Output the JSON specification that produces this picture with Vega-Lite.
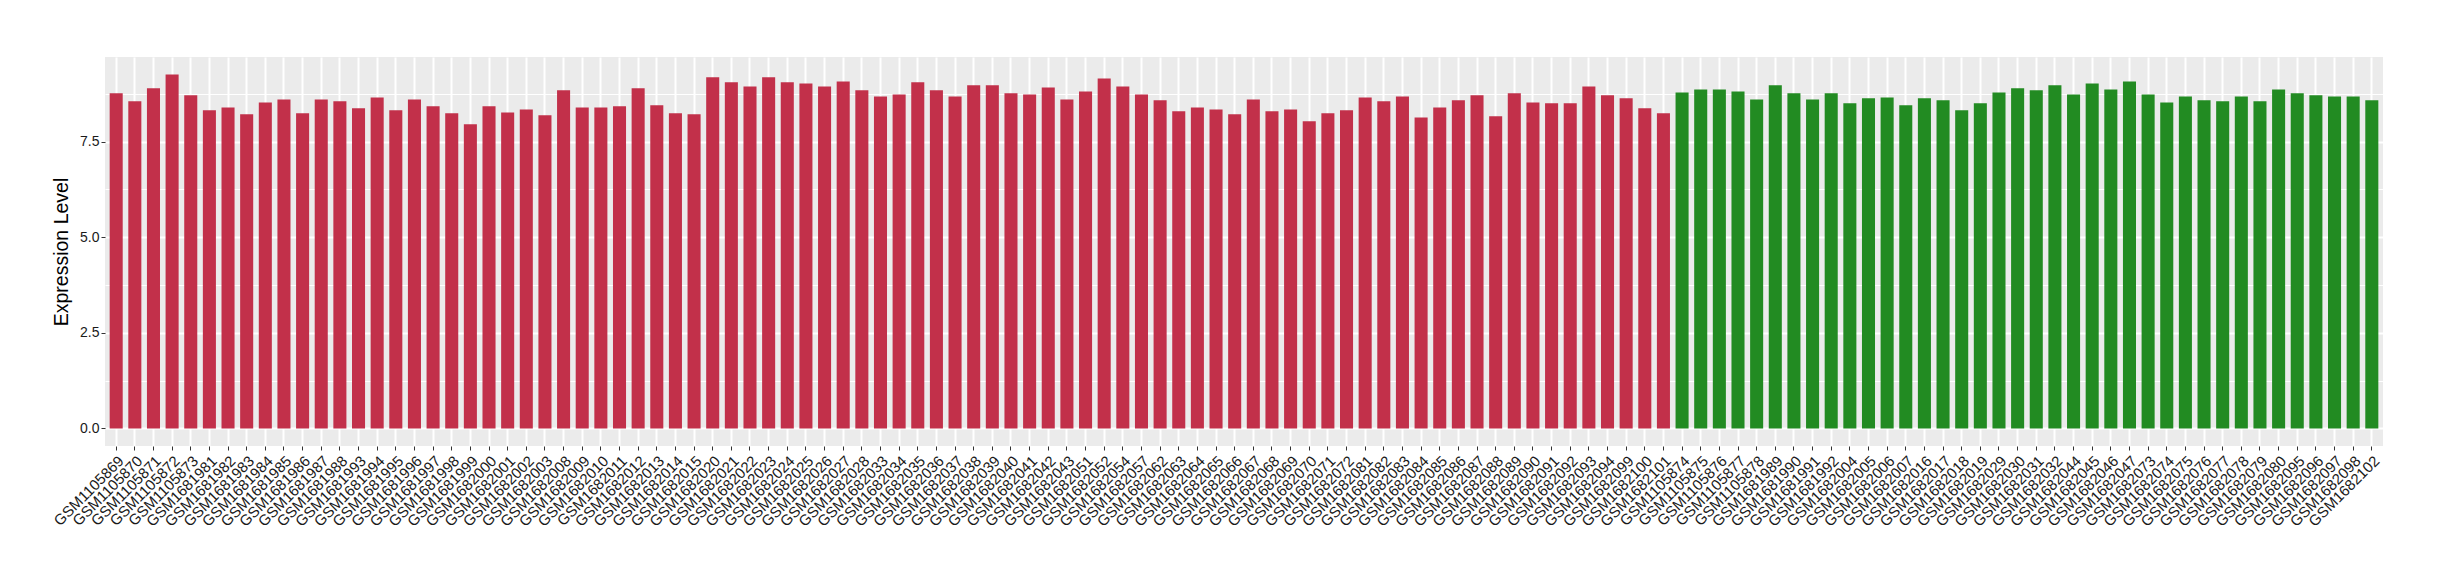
{
  "$schema": "https://vega.github.io/schema/vega-lite/v6.json",
  "width": 2278,
  "height": 389,
  "autosize": "none",
  "padding": {"left": 105, "top": 57, "right": 57, "bottom": 134},
  "background": "white",
  "config": {"view": {"fill": "#EBEBEB", "stroke": null}, "font": "Liberation Sans"},
  "data": {"values": [
    {"sample":"GSM1105869","value":8.76,"group":"Group 1"},
    {"sample":"GSM1105870","value":8.55,"group":"Group 1"},
    {"sample":"GSM1105871","value":8.89,"group":"Group 1"},
    {"sample":"GSM1105872","value":9.25,"group":"Group 1"},
    {"sample":"GSM1105873","value":8.71,"group":"Group 1"},
    {"sample":"GSM1681981","value":8.32,"group":"Group 1"},
    {"sample":"GSM1681982","value":8.39,"group":"Group 1"},
    {"sample":"GSM1681983","value":8.21,"group":"Group 1"},
    {"sample":"GSM1681984","value":8.52,"group":"Group 1"},
    {"sample":"GSM1681985","value":8.60,"group":"Group 1"},
    {"sample":"GSM1681986","value":8.24,"group":"Group 1"},
    {"sample":"GSM1681987","value":8.60,"group":"Group 1"},
    {"sample":"GSM1681988","value":8.55,"group":"Group 1"},
    {"sample":"GSM1681993","value":8.37,"group":"Group 1"},
    {"sample":"GSM1681994","value":8.65,"group":"Group 1"},
    {"sample":"GSM1681995","value":8.32,"group":"Group 1"},
    {"sample":"GSM1681996","value":8.60,"group":"Group 1"},
    {"sample":"GSM1681997","value":8.42,"group":"Group 1"},
    {"sample":"GSM1681998","value":8.24,"group":"Group 1"},
    {"sample":"GSM1681999","value":7.95,"group":"Group 1"},
    {"sample":"GSM1682000","value":8.42,"group":"Group 1"},
    {"sample":"GSM1682001","value":8.26,"group":"Group 1"},
    {"sample":"GSM1682002","value":8.34,"group":"Group 1"},
    {"sample":"GSM1682003","value":8.19,"group":"Group 1"},
    {"sample":"GSM1682008","value":8.84,"group":"Group 1"},
    {"sample":"GSM1682009","value":8.39,"group":"Group 1"},
    {"sample":"GSM1682010","value":8.39,"group":"Group 1"},
    {"sample":"GSM1682011","value":8.42,"group":"Group 1"},
    {"sample":"GSM1682012","value":8.89,"group":"Group 1"},
    {"sample":"GSM1682013","value":8.45,"group":"Group 1"},
    {"sample":"GSM1682014","value":8.24,"group":"Group 1"},
    {"sample":"GSM1682015","value":8.21,"group":"Group 1"},
    {"sample":"GSM1682020","value":9.18,"group":"Group 1"},
    {"sample":"GSM1682021","value":9.05,"group":"Group 1"},
    {"sample":"GSM1682022","value":8.94,"group":"Group 1"},
    {"sample":"GSM1682023","value":9.18,"group":"Group 1"},
    {"sample":"GSM1682024","value":9.05,"group":"Group 1"},
    {"sample":"GSM1682025","value":9.02,"group":"Group 1"},
    {"sample":"GSM1682026","value":8.94,"group":"Group 1"},
    {"sample":"GSM1682027","value":9.07,"group":"Group 1"},
    {"sample":"GSM1682028","value":8.84,"group":"Group 1"},
    {"sample":"GSM1682033","value":8.68,"group":"Group 1"},
    {"sample":"GSM1682034","value":8.73,"group":"Group 1"},
    {"sample":"GSM1682035","value":9.05,"group":"Group 1"},
    {"sample":"GSM1682036","value":8.84,"group":"Group 1"},
    {"sample":"GSM1682037","value":8.68,"group":"Group 1"},
    {"sample":"GSM1682038","value":8.97,"group":"Group 1"},
    {"sample":"GSM1682039","value":8.97,"group":"Group 1"},
    {"sample":"GSM1682040","value":8.76,"group":"Group 1"},
    {"sample":"GSM1682041","value":8.73,"group":"Group 1"},
    {"sample":"GSM1682042","value":8.91,"group":"Group 1"},
    {"sample":"GSM1682043","value":8.60,"group":"Group 1"},
    {"sample":"GSM1682051","value":8.81,"group":"Group 1"},
    {"sample":"GSM1682052","value":9.15,"group":"Group 1"},
    {"sample":"GSM1682054","value":8.94,"group":"Group 1"},
    {"sample":"GSM1682057","value":8.73,"group":"Group 1"},
    {"sample":"GSM1682062","value":8.58,"group":"Group 1"},
    {"sample":"GSM1682063","value":8.29,"group":"Group 1"},
    {"sample":"GSM1682064","value":8.39,"group":"Group 1"},
    {"sample":"GSM1682065","value":8.34,"group":"Group 1"},
    {"sample":"GSM1682066","value":8.21,"group":"Group 1"},
    {"sample":"GSM1682067","value":8.60,"group":"Group 1"},
    {"sample":"GSM1682068","value":8.29,"group":"Group 1"},
    {"sample":"GSM1682069","value":8.34,"group":"Group 1"},
    {"sample":"GSM1682070","value":8.03,"group":"Group 1"},
    {"sample":"GSM1682071","value":8.24,"group":"Group 1"},
    {"sample":"GSM1682072","value":8.32,"group":"Group 1"},
    {"sample":"GSM1682081","value":8.65,"group":"Group 1"},
    {"sample":"GSM1682082","value":8.55,"group":"Group 1"},
    {"sample":"GSM1682083","value":8.68,"group":"Group 1"},
    {"sample":"GSM1682084","value":8.13,"group":"Group 1"},
    {"sample":"GSM1682085","value":8.39,"group":"Group 1"},
    {"sample":"GSM1682086","value":8.58,"group":"Group 1"},
    {"sample":"GSM1682087","value":8.71,"group":"Group 1"},
    {"sample":"GSM1682088","value":8.16,"group":"Group 1"},
    {"sample":"GSM1682089","value":8.76,"group":"Group 1"},
    {"sample":"GSM1682090","value":8.52,"group":"Group 1"},
    {"sample":"GSM1682091","value":8.50,"group":"Group 1"},
    {"sample":"GSM1682092","value":8.50,"group":"Group 1"},
    {"sample":"GSM1682093","value":8.94,"group":"Group 1"},
    {"sample":"GSM1682094","value":8.71,"group":"Group 1"},
    {"sample":"GSM1682099","value":8.63,"group":"Group 1"},
    {"sample":"GSM1682100","value":8.37,"group":"Group 1"},
    {"sample":"GSM1682101","value":8.24,"group":"Group 1"},
    {"sample":"GSM1105874","value":8.78,"group":"Group 2"},
    {"sample":"GSM1105875","value":8.86,"group":"Group 2"},
    {"sample":"GSM1105876","value":8.86,"group":"Group 2"},
    {"sample":"GSM1105877","value":8.81,"group":"Group 2"},
    {"sample":"GSM1105878","value":8.60,"group":"Group 2"},
    {"sample":"GSM1681989","value":8.97,"group":"Group 2"},
    {"sample":"GSM1681990","value":8.76,"group":"Group 2"},
    {"sample":"GSM1681991","value":8.60,"group":"Group 2"},
    {"sample":"GSM1681992","value":8.76,"group":"Group 2"},
    {"sample":"GSM1682004","value":8.50,"group":"Group 2"},
    {"sample":"GSM1682005","value":8.63,"group":"Group 2"},
    {"sample":"GSM1682006","value":8.65,"group":"Group 2"},
    {"sample":"GSM1682007","value":8.45,"group":"Group 2"},
    {"sample":"GSM1682016","value":8.63,"group":"Group 2"},
    {"sample":"GSM1682017","value":8.58,"group":"Group 2"},
    {"sample":"GSM1682018","value":8.32,"group":"Group 2"},
    {"sample":"GSM1682019","value":8.50,"group":"Group 2"},
    {"sample":"GSM1682029","value":8.78,"group":"Group 2"},
    {"sample":"GSM1682030","value":8.89,"group":"Group 2"},
    {"sample":"GSM1682031","value":8.84,"group":"Group 2"},
    {"sample":"GSM1682032","value":8.97,"group":"Group 2"},
    {"sample":"GSM1682044","value":8.73,"group":"Group 2"},
    {"sample":"GSM1682045","value":9.02,"group":"Group 2"},
    {"sample":"GSM1682046","value":8.86,"group":"Group 2"},
    {"sample":"GSM1682047","value":9.07,"group":"Group 2"},
    {"sample":"GSM1682073","value":8.73,"group":"Group 2"},
    {"sample":"GSM1682074","value":8.52,"group":"Group 2"},
    {"sample":"GSM1682075","value":8.68,"group":"Group 2"},
    {"sample":"GSM1682076","value":8.58,"group":"Group 2"},
    {"sample":"GSM1682077","value":8.55,"group":"Group 2"},
    {"sample":"GSM1682078","value":8.68,"group":"Group 2"},
    {"sample":"GSM1682079","value":8.55,"group":"Group 2"},
    {"sample":"GSM1682080","value":8.86,"group":"Group 2"},
    {"sample":"GSM1682095","value":8.76,"group":"Group 2"},
    {"sample":"GSM1682096","value":8.71,"group":"Group 2"},
    {"sample":"GSM1682097","value":8.68,"group":"Group 2"},
    {"sample":"GSM1682098","value":8.68,"group":"Group 2"},
    {"sample":"GSM1682102","value":8.58,"group":"Group 2"}
  ]},
  "mark": {"type": "bar"},
  "encoding": {
    "x": {
      "field": "sample", "type": "nominal", "sort": null,
      "scale": {"paddingInner": 0.3, "paddingOuter": 0.25},
      "axis": {
        "title": null, "labelAngle": -45, "labelAlign": "right", "labelBaseline": "top",
        "labelFontSize": 15, "labelColor": "#1a1a1a", "labelPadding": 3,
        "tickSize": 4, "tickColor": "#333333", "tickWidth": 1, "domain": false,
        "grid": true, "gridColor": "white", "gridWidth": 2,
        "labelOverlap": false, "labelBound": false
      }
    },
    "y": {
      "field": "value", "type": "quantitative",
      "scale": {"domain": [-0.46, 9.71], "nice": false, "zero": false},
      "axis": {
        "title": "Expression Level", "titleFontSize": 19.5, "titleFontWeight": "normal",
        "titleColor": "#000000", "titlePadding": 8,
        "values": [0, 1.25, 2.5, 3.75, 5, 6.25, 7.5, 8.75],
        "labelExpr": "datum.value % 2.5 === 0 ? format(datum.value, '.1f') : ''",
        "labelFontSize": 14, "labelColor": "#1a1a1a", "labelPadding": 2,
        "tickSize": 4, "tickColor": "#333333",
        "tickOpacity": {"condition": {"test": "datum.value % 2.5 !== 0", "value": 0}, "value": 1},
        "domain": false, "grid": true, "gridColor": "white",
        "gridWidth": {"condition": {"test": "datum.value % 2.5 !== 0", "value": 1}, "value": 2}
      }
    },
    "y2": {"datum": 0},
    "color": {
      "field": "group", "type": "nominal",
      "scale": {"domain": ["Group 1", "Group 2"], "range": ["#C2304A", "#228B22"]},
      "legend": null
    }
  }
}
